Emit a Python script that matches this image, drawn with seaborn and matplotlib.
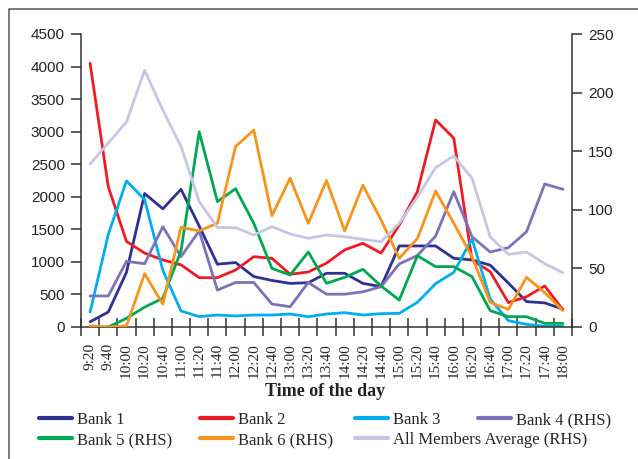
import numpy as np
import pandas as pd
import matplotlib.pyplot as plt
import seaborn as sns
from matplotlib.lines import Line2D

times = ["9:20", "9:40", "10:00", "10:20", "10:40", "11:00", "11:20", "11:40",
         "12:00", "12:20", "12:40", "13:00", "13:20", "13:40", "14:00", "14:20",
         "14:40", "15:00", "15:20", "15:40", "16:00", "16:20", "16:40", "17:00",
         "17:20", "17:40", "18:00"]

# left axis
bank1 = [80, 230, 840, 2050, 1815, 2115, 1550, 965, 990, 775, 715, 670, 680, 825,
         825, 670, 620, 1245, 1245, 1245, 1055, 1030, 950, 675, 390, 370, 275]
bank2 = [4050, 2155, 1315, 1135, 1030, 955, 757, 757, 875, 1080, 1055, 810, 845, 980,
         1185, 1285, 1135, 1565, 2080, 3180, 2900, 1030, 850, 375, 465, 630, 265]
bank3 = [230, 1420, 2245, 1955, 870, 246, 160, 184, 170, 184, 184, 200, 158, 200,
         220, 184, 205, 210, 380, 665, 840, 1355, 430, 97, 41, 10, 10]

# right axis (RHS)
bank4 = [26.5, 26.5, 56, 54, 85.6, 60, 82, 31.5, 38, 38, 19.6, 17.3, 38, 28, 28, 30,
         34.4, 53.8, 61, 77.6, 115.5, 77, 64, 67.7, 81.3, 122, 117.5]
bank5 = [0, 0, 7.4, 17, 24.5, 65, 166.6, 107, 118, 88.5, 50, 44.4, 64, 37.3, 42.4,
         49.2, 35, 23, 60.8, 51.5, 51.5, 43, 14, 8.8, 8.8, 3.1, 3.1]
bank6 = [1, 0, 1, 45.5, 19.5, 85, 82, 88.5, 154, 168, 95, 127, 88.5, 125, 82, 121,
         91.3, 58.6, 75.5, 116, 88.5, 60, 21, 15, 42.4, 29.3, 14]
members_avg = [139, 157, 175, 219, 185, 154, 107, 85, 84.7, 78.5, 85.6, 79.4, 75.7,
               78.5, 77, 74.8, 72.8, 88.5, 111, 136, 146, 127, 77, 62, 64, 54, 46.3]

colors = {
    "Bank 1": "#2E3192",
    "Bank 2": "#ED1C24",
    "Bank 3": "#00AEEF",
    "Bank 4 (RHS)": "#7C72B8",
    "Bank 5 (RHS)": "#00A651",
    "Bank 6 (RHS)": "#F7941D",
    "All Members Average (RHS)": "#C6C6E5",
}

x = np.arange(len(times))
left = pd.DataFrame({"x": x, "Bank 1": bank1, "Bank 2": bank2, "Bank 3": bank3})
right = pd.DataFrame({"x": x, "Bank 4 (RHS)": bank4, "Bank 5 (RHS)": bank5,
                      "Bank 6 (RHS)": bank6, "All Members Average (RHS)": members_avg})

sns.set_style("ticks")
plt.rcParams["font.family"] = ["Liberation Serif", "DejaVu Serif"]

fig = plt.figure(figsize=(6.38, 4.59), dpi=100)
ax = fig.add_axes([81 / 638, 1 - 327 / 459, 491 / 638, 293 / 459])
ax2 = ax.twinx()

for col in ["Bank 1", "Bank 2", "Bank 3"]:
    sns.lineplot(data=left, x="x", y=col, ax=ax, color=colors[col], lw=2.0, legend=False)
for col in ["Bank 4 (RHS)", "Bank 5 (RHS)", "Bank 6 (RHS)", "All Members Average (RHS)"]:
    sns.lineplot(data=right, x="x", y=col, ax=ax2, color=colors[col], lw=2.0, legend=False)

ax.set_xlim(-0.5, len(times) - 0.5)
ax.set_ylim(0, 4500)
ax2.set_ylim(0, 250)
ax.set_yticks(range(0, 4501, 500))
ax2.set_yticks(range(0, 251, 50))
ax.set_xlabel("")
ax.set_ylabel("")
ax2.set_ylabel("")

# ticks on category boundaries, labels at centers
ax.set_xticks(np.arange(-0.5, len(times), 1))
ax.set_xticklabels([])
ax.set_xticks(x, minor=True)
ax.set_xticklabels(times, minor=True, rotation=90, fontsize=11)
ax.tick_params(axis="x", which="major", direction="inout", length=13, width=1.1, color="#333333")
ax.tick_params(axis="x", which="minor", length=0, pad=11.5)
ax.tick_params(axis="y", direction="out", length=7.2, width=1.1, color="#333333", pad=4.5)
ax2.tick_params(axis="y", direction="out", length=7.2, width=1.1, color="#333333", pad=4.5)
for lab in ax.get_yticklabels() + ax2.get_yticklabels():
    lab.set_family("Liberation Sans")
    lab.set_fontsize(11)
    lab.set_color("#222222")

for a in (ax, ax2):
    a.spines["top"].set_visible(False)
    for s in a.spines.values():
        s.set_color("#333333")
        s.set_linewidth(1.1)
ax.spines["right"].set_visible(False)
ax2.spines["left"].set_visible(False)
ax2.spines["bottom"].set_visible(False)

fig.text(325 / 638, 1 - 392 / 459, "Time of the day", ha="center", va="center",
         fontsize=13, fontweight="bold", color="#222222")

# legend items placed like the reference (row-wise flow)
legend_pos = [("Bank 1", 39, 420), ("Bank 2", 200, 420), ("Bank 3", 355, 420),
              ("Bank 4 (RHS)", 478, 420), ("Bank 5 (RHS)", 39, 440),
              ("Bank 6 (RHS)", 200, 440), ("All Members Average (RHS)", 355, 440)]
for name, px, py in legend_pos:
    h = Line2D([], [], color=colors[name], lw=3)
    fig.legend([h], [name], loc="center left", bbox_to_anchor=(px / 638, 1 - py / 459),
               frameon=False, fontsize=12, handlelength=2.0, handletextpad=0.3,
               borderpad=0, borderaxespad=0)

# outer frame (left and top edges visible in the crop)
fig.add_artist(Line2D([9 / 638, 9 / 638, 1.0], [0, 1 - 9 / 459, 1 - 9 / 459],
                      transform=fig.transFigure, color="#555555", lw=1.1))

fig.savefig("out.png", dpi=100)
